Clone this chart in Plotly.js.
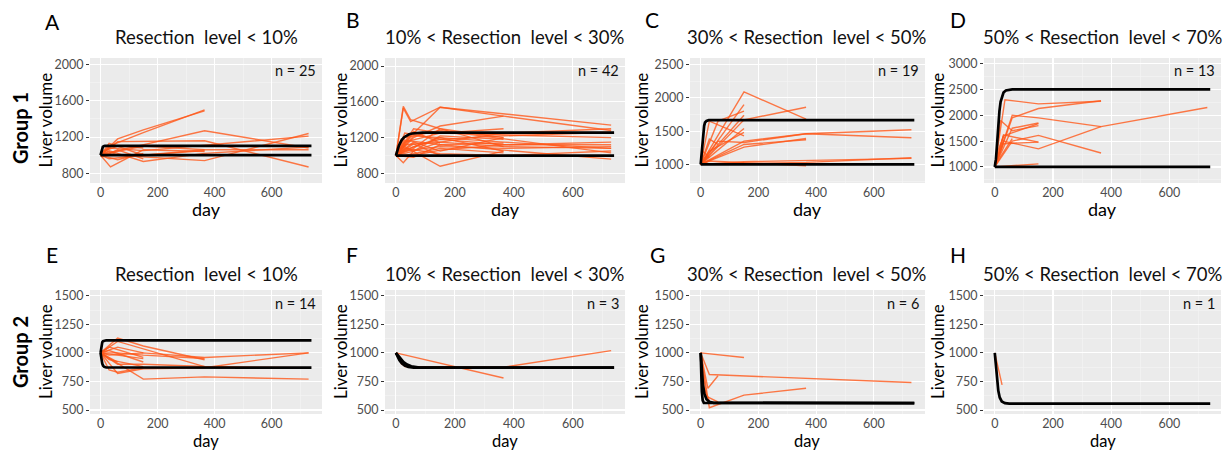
<!DOCTYPE html>
<html><head><meta charset="utf-8">
<script src="https://cdn.plot.ly/plotly-3.0.1.min.js"></script>
<style>html,body{margin:0;padding:0;background:#fff}#chart{width:1231px;height:452px}</style>
</head><body><div id="chart"></div>
<script>
// ---------- DATA ----------
const xTickVals = [0, 200, 400, 600];
const xTickText = ['0', '200', '400', '600'];
const yTicksG1AB = [800, 1200, 1600, 2000];
const yTicksG1C = [1000, 1500, 2000, 2500];
const yTicksG1D = [1000, 1500, 2000, 2500, 3000];
const yTicksG2 = [500, 750, 1000, 1250, 1500];

const panelTitles = ['Resection  level < 10%', '10% < Resection  level < 30%', '30% < Resection  level < 50%', '50% < Resection  level < 70%',
                     'Resection  level < 10%', '10% < Resection  level < 30%', '30% < Resection  level < 50%', '50% < Resection  level < 70%'];
const panelLetters = ['A', 'B', 'C', 'D', 'E', 'F', 'G', 'H'];
const panelN = ['n = 25', 'n = 42', 'n = 19', 'n = 13', 'n = 14', 'n = 3', 'n = 6', 'n = 1'];
const groupLabels = ['Group 1', 'Group 2'];
const xTitle = 'day';
const yTitle = 'Liver volume';

// Patient trajectories (day, liver volume)
const A_days = [[0,30,150,365],[0,60,150,365],[0,60,365,730],[0,35,150,365],[0,30,150,365,730],[0,60,365,730],[0,60,365,730],[0,30,150,730],[0,30,150,365,730],[0,7,60,150],[0,30,150,365],[0,60,150],[0,30,150,365],[0,7,60,150],[0,30,60]];
const A_vols = [[1000,1100,1250,1500],[1000,1180,1280,1490],[1000,1050,1270,1080],[1000,870,1060,1040],[1000,1050,930,1020,1090],[1000,1150,1160,870],[1000,1000,940,1240],[1000,1080,1050,1210],[1000,960,1000,1060,1060],[1000,1040,1100,1080],[1000,1020,1100,1060],[1000,950,1020],[1000,1130,1000,1050],[1000,980,1060,960],[1000,1040,1000]];

const B_days = [[0,25,50,150,365],[0,25,50,150,365,730],[0,60,150,730],[0,25,60,150,365,730],[0,30,150,365],[0,60,150,365],[0,30,150,730],[0,60,150,365,730],[0,30,150,365,730],[0,60,150,365,730],[0,30,150,365,730],[0,60,150,365],[0,30,150,730],[0,60,150,730],[0,30,150,365],[0,60,150,365],[0,30,150,365],[0,60,150,365],[0,30,150,365,730],[0,60,150],[0,30,150,365],[0,60,150,365,730],[0,30,150,365],[0,60,150,365,730],[0,60,150]];
const B_vols = [[1000,1550,1400,1300,1200],[1000,1530,1380,1540,1440,1280],[1000,1250,1540,1340],[1000,920,1050,1150,1250,1300],[1000,1100,880,1050],[1000,1200,1330,1440],[1000,1150,1250,1200],[1000,1100,1180,1120,1150],[1000,1050,1100,1080,1100],[1000,1220,1200,1150,1080],[1000,1080,1020,1000,1050],[1000,1150,1050,1200],[1000,1200,1280,1030],[1000,980,1120,960],[1000,1120,1150,1100],[1000,1050,1220,1180],[1000,1000,1080,1030],[1000,1300,1250,1300],[1000,1250,1180,1220,1260],[1000,1130,1000],[1000,1170,1120,1140],[1000,1080,1300,1100,1080],[1000,1060,1200,1050],[1000,1000,1060,1120,1120],[1000,1270,1140]];

const C_days = [[0,150,365],[0,150,365],[0,150],[0,150],[0,30,150],[0,150],[0,60,150,365,730],[0,150,365,730],[0,150,365],[0,150,365],[0,30,150],[0,30,60],[0,365,730],[0,150,730],[0,30,365],[0,60,150],[0,30],[0,7,30],[0,60,150]];
const C_vols = [[1000,2090,1680],[1000,1670,1860],[1000,1900],[1000,1740],[1000,1650,1430],[1000,1540],[1000,1350,1330,1460,1520],[1000,1350,1460,1400],[1000,1300,1370],[1000,1260,1390],[1000,1200,1480],[1000,1380,1300],[1000,1030,1100],[1000,1040,1090],[1000,1050,980],[1000,1000,1020],[1000,1130],[1000,1200,1100],[1000,1650,1800]];

const D_days = [[0,35,150,365],[0,60,150,365],[0,60,150,365,730],[0,30,150,365],[0,30,150],[0,60,150],[0,20,60,150],[0,30,150],[0,60,150,365],[0,150],[0,30,150],[0,20,60],[0,10,30]];
const D_vols = [[1000,2300,2220,2270],[1000,1950,2130,2280],[1000,2000,1950,1780,2150],[1000,1500,1350,1780],[1000,1600,1840],[1000,1750,1850],[1000,1900,1700,1800],[1000,1620,1480],[1000,1500,1610,1270],[1000,1060],[1000,1450,1480],[1000,1200,1550],[1000,1300,1600]];

const E_days = [[0,60,150,365],[0,60,365],[0,150,365,730],[0,60,150,365,730],[0,30,150],[0,60,150],[0,30,150,365,730],[0,60,150,365,730],[0,30,150],[0,60,150],[0,30,60,150],[0,30,150],[0,60,150,365],[0,30,60]];
const E_vols = [[1000,1130,1060,940],[1000,1100,880],[1000,770,790,770],[1000,820,860,870,1000],[1000,1050,960],[1000,980,950],[1000,980,1000,960,1000],[1000,900,900,880,870],[1000,940,880],[1000,1050,1000],[1000,850,830,870],[1000,1020,920],[1000,1000,980,950],[1000,960,920]];

const F_days = [[0,365],[0,30,365,730],[0,20,60]];
const F_vols = [[1000,780],[1000,880,875,1020],[1000,900,875]];

const G_days = [[0,150],[0,30,730],[0,25,60],[0,30,150,365],[0,10,30],[0,20,60]];
const G_vols = [[1000,960],[1000,810,740],[1000,690,800],[1000,520,630,690],[1000,700,580],[1000,620,570]];

const H_days = [[0,25]];
const H_vols = [[1000,720]];

// Model (fitted) curves
const A_fit_days = [[0,2,4,6,8,11,15,740],[0,740]];
const A_fit_vols = [[1000,1030,1060,1080,1092,1099,1102,1102],[1000,1000]];
const B_fit_days = [[0,5,10,15,20,28,36,45,55,70,90,740],[0,740]];
const B_fit_vols = [[1000,1060,1110,1145,1175,1205,1225,1238,1246,1252,1255,1255],[1000,1000]];
const C_fit_days = [[0,3,6,9,12,15,20,28,740],[0,740]];
const C_fit_vols = [[1000,1150,1330,1480,1580,1630,1655,1665,1665],[1000,1000]];
const D_fit_days = [[0,4,8,12,16,20,25,30,38,48,60,740],[0,740]];
const D_fit_vols = [[1000,1150,1450,1800,2080,2260,2380,2440,2480,2495,2500,2500],[1000,1000]];
const E_fit_days = [[0,2,4,6,9,13,20,740],[0,2,4,6,9,13,20,740]];
const E_fit_vols = [[1000,1045,1075,1092,1103,1108,1110,1110],[1000,955,925,905,888,877,872,870]];
const F_fit_days = [[0,6,12,20,30,42,60,740],[0,8,16,26,38,52,80,740]];
const F_fit_vols = [[1000,965,935,908,888,877,871,870],[1000,975,950,920,898,882,872,870]];
const G_fit_days = [[0,4,8,13,20,30,45,740],[0,2,4,7,11,740]];
const G_fit_vols = [[1000,840,720,640,595,572,562,560],[1000,800,660,585,562,560]];
const H_fit_days = [[0,4,8,12,17,24,35,50,740]];
const H_fit_vols = [[1000,880,760,670,610,575,560,555,555]];

// ---------- BUILD ----------
const FONT = 'Lato, "Open Sans", sans-serif';
const W = 1231, H = 452;
const colPx = [[90,322],[385,625],[690,925],[984,1221]];
const rowPx = [[58,183],[290,414]];
const yTitleX = [45, 340, 641, 937];
const rowTitleY = [37, 274];
const letterPx = [[52,21],[353,20],[652,20],[958,20],[52,254],[352,254],[657,254],[958,254]];

const panels = [
  {d:A_days, v:A_vols, fd:A_fit_days, fv:A_fit_vols, yr:[693,2073], yt:yTicksG1AB, ym:200},
  {d:B_days, v:B_vols, fd:B_fit_days, fv:B_fit_vols, yr:[693,2090], yt:yTicksG1AB, ym:200},
  {d:C_days, v:C_vols, fd:C_fit_days, fv:C_fit_vols, yr:[720,2600], yt:yTicksG1C, ym:250},
  {d:D_days, v:D_vols, fd:D_fit_days, fv:D_fit_vols, yr:[690,3108], yt:yTicksG1D, ym:250},
  {d:E_days, v:E_vols, fd:E_fit_days, fv:E_fit_vols, yr:[465,1550], yt:yTicksG2, ym:125},
  {d:F_days, v:F_vols, fd:F_fit_days, fv:F_fit_vols, yr:[465,1550], yt:yTicksG2, ym:125},
  {d:G_days, v:G_vols, fd:G_fit_days, fv:G_fit_vols, yr:[465,1550], yt:yTicksG2, ym:125},
  {d:H_days, v:H_vols, fd:H_fit_days, fv:H_fit_vols, yr:[465,1550], yt:yTicksG2, ym:125}
];

function flat(list){ const out=[]; list.forEach((s,i)=>{ if(i) out.push(null); s.forEach(p=>out.push(p)); }); return out; }

const traces = [];
const layout = {
  width: W, height: H, margin:{l:0,r:0,t:0,b:0},
  paper_bgcolor:'#ffffff', plot_bgcolor:'#EBEBEB', showlegend:false,
  font:{family:FONT, color:'#000'}, annotations:[]
};

panels.forEach((p,i)=>{
  const k = i+1, sfx = k>1 ? String(k) : '';
  const col = i%4, row = Math.floor(i/4);
  const cx = colPx[col], ry = rowPx[row];
  traces.push({type:'scatter', mode:'lines', x:flat(p.d), y:flat(p.v), xaxis:'x'+sfx, yaxis:'y'+sfx,
    line:{color:'rgba(255,88,25,0.8)', width:1.4}, connectgaps:false, hoverinfo:'skip'});
  traces.push({type:'scatter', mode:'lines', x:flat(p.fd), y:flat(p.fv), xaxis:'x'+sfx, yaxis:'y'+sfx,
    line:{color:'#000', width:2.7}, connectgaps:false, hoverinfo:'skip'});
  layout['xaxis'+sfx] = {
    domain:[cx[0]/W, cx[1]/W], anchor:'y'+sfx, range:[-37,777],
    tickmode:'array', tickvals:xTickVals, ticktext:xTickText,
    showgrid:true, gridcolor:'#ffffff', gridwidth:1.1, zeroline:false, showline:false,
    minor:{tickmode:'linear', tick0:100, dtick:200, showgrid:true, gridcolor:'#F5F5F5', gridwidth:0.6, ticks:''},
    ticks:'', ticklen:0,
    tickfont:{family:FONT, size:12.5, color:'#4D4D4D'}
  };
  layout['yaxis'+sfx] = {
    domain:[1-ry[1]/H, 1-ry[0]/H], anchor:'x'+sfx, range:p.yr,
    tickmode:'array', tickvals:p.yt, ticktext:p.yt.map(String),
    showgrid:true, gridcolor:'#ffffff', gridwidth:1.1, zeroline:false, showline:false,
    minor:{tickmode:'linear', tick0:p.yt[0]+p.ym, dtick:2*p.ym, showgrid:true, gridcolor:'#F5F5F5', gridwidth:0.6, ticks:''},
    ticks:'outside', ticklen:3, tickcolor:'#333', tickwidth:1,
    tickfont:{family:FONT, size:12.5, color:'#4D4D4D'}
  };
  // axis titles
  if (row === 0) {
    layout.annotations.push({xref:'paper', yref:'paper', x:(cx[0]+cx[1])/2/W, y:1-209/H,
      text:xTitle, showarrow:false, xanchor:'center', yanchor:'middle', font:{family:FONT, size:18, color:'#000'}});
  } else {
    layout.annotations.push({xref:'paper', yref:'paper', x:(cx[0]+cx[1])/2/W, y:0,
      text:xTitle, showarrow:false, xanchor:'center', yanchor:'bottom', borderpad:0, font:{family:FONT, size:16.5, color:'#000'}});
  }
  layout.annotations.push({xref:'paper', yref:'paper', x:yTitleX[col]/W, y:1-(ry[0]+ry[1])/2/H,
    text:yTitle, showarrow:false, textangle:-90, xanchor:'center', yanchor:'middle', font:{family:FONT, size:17, color:'#000'}});
  // panel title, letter, n
  layout.annotations.push({xref:'paper', yref:'paper', x:(cx[0]+cx[1])/2/W, y:1-rowTitleY[row]/H,
    text:panelTitles[i], showarrow:false, xanchor:'center', yanchor:'middle', font:{family:FONT, size:18.5, color:'#111'}});
  layout.annotations.push({xref:'paper', yref:'paper', x:letterPx[i][0]/W, y:1-letterPx[i][1]/H,
    text:panelLetters[i], showarrow:false, xanchor:'center', yanchor:'middle', font:{family:FONT, size:21, color:'#000'}});
  layout.annotations.push({xref:'paper', yref:'paper', x:(cx[1]-4)/W, y:1-(ry[0]+13)/H,
    text:panelN[i], showarrow:false, xanchor:'right', yanchor:'middle', font:{family:FONT, size:14.5, color:'#111'}});
});

groupLabels.forEach((g,r)=>{
  layout.annotations.push({xref:'paper', yref:'paper', x:20/W, y:1-(r?352:128)/H, text:'<b>'+g+'</b>',
    showarrow:false, textangle:-90, xanchor:'center', yanchor:'middle', font:{family:FONT, size:20, color:'#000'}});
});

Plotly.newPlot('chart', traces, layout, {staticPlot:true, displayModeBar:false});
</script>
</body></html>
